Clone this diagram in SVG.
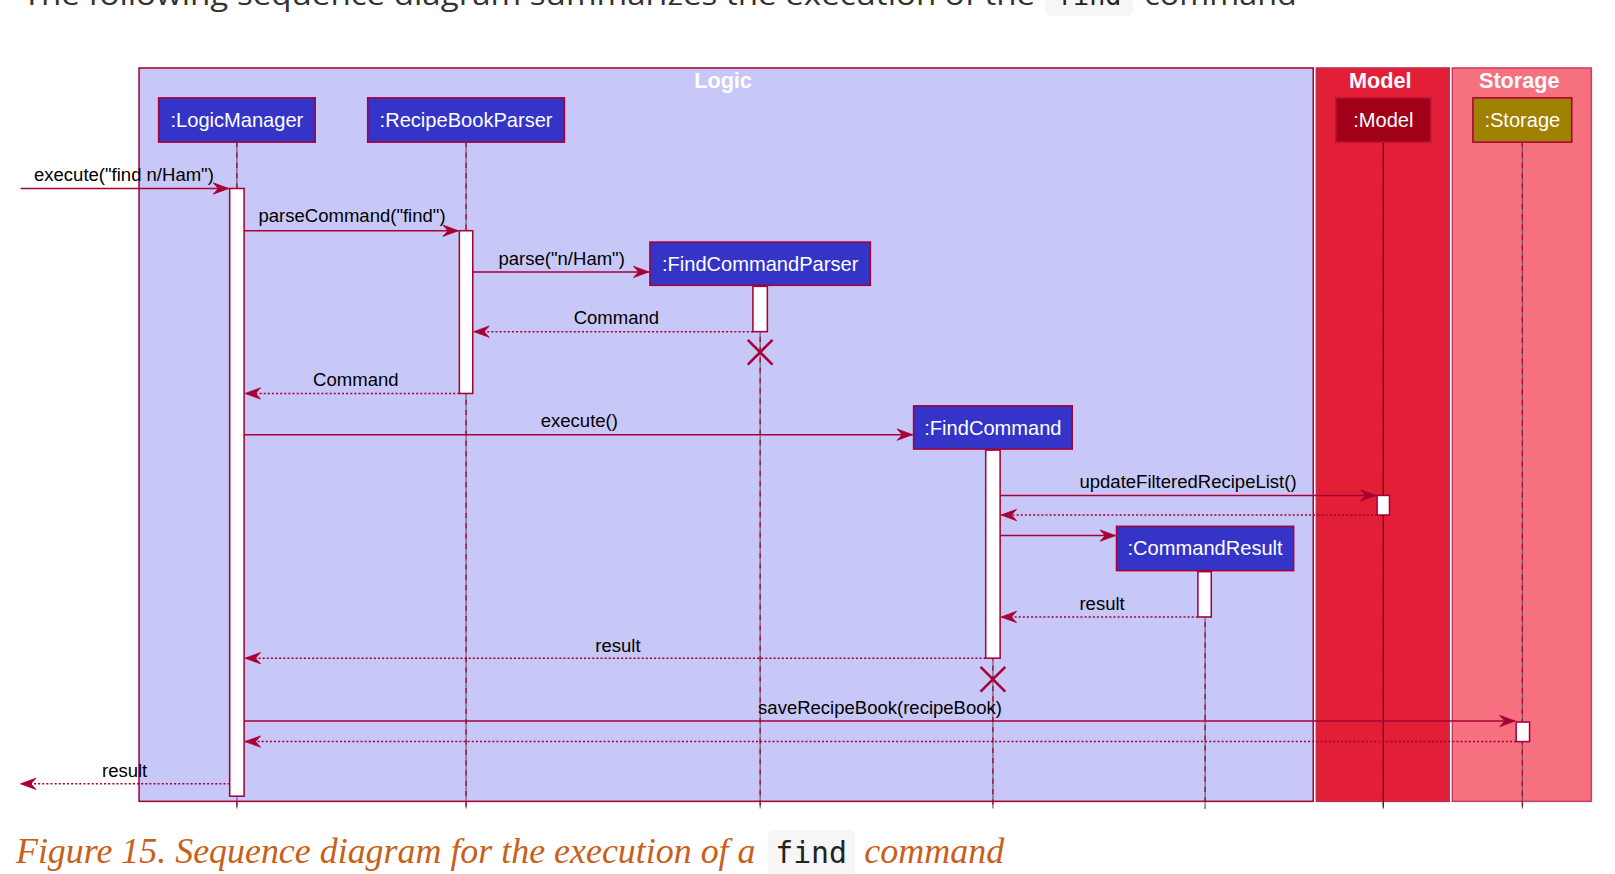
<svg xmlns="http://www.w3.org/2000/svg" width="1615" height="874" viewBox="0 0 1615 874">
<defs>
<marker id="ah" markerUnits="userSpaceOnUse" markerWidth="18" markerHeight="14" viewBox="-16 -7 18 14" refX="0" refY="0" orient="auto">
<path d="M0,0 L-15,-5.5 L-10,0 L-15,5.5 Z" fill="#A80036" stroke="#A80036" stroke-width="0.8" stroke-linejoin="miter"/>
</marker>
<style>
.frame{stroke:#A80036;stroke-width:1.5}
.ftitle{font-family:"Liberation Sans",Arial,sans-serif;font-weight:bold;font-size:21px;fill:#fff;text-anchor:middle}
.pbox{stroke:#A80036;stroke-width:1.5;fill:#3434C8}
.ptext{font-family:"Liberation Sans",Arial,sans-serif;font-size:19.5px;fill:#fff;text-anchor:middle}
.life{stroke:#555;stroke-width:1}
.lifed{stroke:#A80036;stroke-width:1.2;stroke-dasharray:5 5}
.act{fill:#fff;stroke:#A80036;stroke-width:1.5}
.msg{stroke:#A80036;stroke-width:1.5;fill:none;marker-end:url(#ah)}
.ret{stroke:#A80036;stroke-width:1.5;fill:none;stroke-dasharray:2 2;marker-end:url(#ah)}
.lbl{font-family:"Liberation Sans",Arial,sans-serif;font-size:18px;fill:#000}
.x{stroke:#A80036;stroke-width:2.5}
</style>
</defs>
<rect width="1615" height="874" fill="#fff"/>
<g transform="scale(1.03)">
<g id="intro">
<text x="22" y="4.4" font-family="'Open Sans','Noto Sans',sans-serif" font-size="28" fill="#333" textLength="983" lengthAdjust="spacingAndGlyphs">The following sequence diagram summarizes the execution of the</text>
<rect x="1015" y="-20" width="85" height="35.5" rx="5" fill="#f6f6f6"/>
<text x="1057.5" y="4.4" font-family="'DejaVu Sans Mono','Liberation Mono',monospace" font-size="26" fill="#222" text-anchor="middle">find</text>
<text x="1111" y="4.4" font-family="'Open Sans','Noto Sans',sans-serif" font-size="28" fill="#333" textLength="148" lengthAdjust="spacingAndGlyphs">command</text>
</g>
<g id="frame-logic">
<rect class="frame" x="135" y="66" width="1140" height="712" fill="#C8C8F8"/>
<text class="ftitle" x="702" y="85">Logic</text>
</g>
<g id="frame-model">
<rect class="frame" x="1278" y="66" width="129" height="712" fill="#E31F38" style="stroke:#C0304E"/>
<text class="ftitle" x="1340" y="85">Model</text>
</g>
<g id="frame-storage">
<rect class="frame" x="1410" y="66" width="135" height="712" fill="#F7707F" style="stroke:#C84060"/>
<text class="ftitle" x="1475" y="85">Storage</text>
</g>
<g id="lifelines">
<line class="life" x1="230" y1="138" x2="230" y2="785"/><line class="lifed" x1="230" y1="138" x2="230" y2="785"/>
<line class="life" x1="452.5" y1="138" x2="452.5" y2="785"/><line class="lifed" x1="452.5" y1="138" x2="452.5" y2="785"/>
<line class="life" x1="738" y1="277" x2="738" y2="785"/><line class="lifed" x1="738" y1="277" x2="738" y2="785"/>
<line class="life" x1="964" y1="436" x2="964" y2="785"/><line class="lifed" x1="964" y1="436" x2="964" y2="785"/>
<line class="life" x1="1170" y1="554" x2="1170" y2="785"/><line class="lifed" x1="1170" y1="554" x2="1170" y2="785"/>
<line class="life" x1="1343" y1="138" x2="1343" y2="785" style="stroke:#5a0010"/><line class="lifed" x1="1343" y1="138" x2="1343" y2="785" style="stroke:#8a0020"/>
<line class="life" x1="1478" y1="138" x2="1478" y2="785"/><line class="lifed" x1="1478" y1="138" x2="1478" y2="785"/>
</g>
<g id="LogicManager">
<rect class="pbox" x="154" y="95" width="152" height="43"/>
<text class="ptext" x="230" y="123">:LogicManager</text>
<rect class="act" x="223" y="183" width="14" height="590"/>
</g>
<g id="RecipeBookParser">
<rect class="pbox" x="357" y="95" width="191" height="43"/>
<text class="ptext" x="452.5" y="123">:RecipeBookParser</text>
<rect class="act" x="446" y="224" width="13" height="158"/>
</g>
<g id="FindCommandParser">
<rect class="pbox" x="631" y="235" width="214" height="42"/>
<text class="ptext" x="738" y="263">:FindCommandParser</text>
<rect class="act" x="731" y="278" width="14" height="44"/>
<line class="x" x1="726" y1="330" x2="750" y2="354"/><line class="x" x1="750" y1="330" x2="726" y2="354"/>
</g>
<g id="FindCommand">
<rect class="pbox" x="887" y="394" width="154" height="42"/>
<text class="ptext" x="964" y="422">:FindCommand</text>
<rect class="act" x="957" y="437" width="14" height="202"/>
<line class="x" x1="952" y1="647.5" x2="976" y2="671.5"/><line class="x" x1="976" y1="647.5" x2="952" y2="671.5"/>
</g>
<g id="CommandResult">
<rect class="pbox" x="1084" y="511" width="172" height="43"/>
<text class="ptext" x="1170" y="539">:CommandResult</text>
<rect class="act" x="1163" y="555" width="13" height="44"/>
</g>
<g id="Model">
<rect class="pbox" x="1297" y="95" width="92" height="43" style="fill:#A00018;stroke:#C01040"/>
<text class="ptext" x="1343" y="123">:Model</text>
<rect class="act" x="1337" y="481" width="12" height="19"/>
</g>
<g id="Storage">
<rect class="pbox" x="1430" y="95" width="96" height="43" style="fill:#A08000"/>
<text class="ptext" x="1478" y="123">:Storage</text>
<rect class="act" x="1472" y="701" width="13" height="19"/>
</g>
<g id="connectors">
<line class="msg" x1="20" y1="183" x2="222" y2="183"/>
<text class="lbl" x="33" y="176">execute("find n/Ham")</text>
<line class="msg" x1="237" y1="224" x2="445" y2="224"/>
<text class="lbl" x="251" y="216">parseCommand("find")</text>
<line class="msg" x1="459" y1="264" x2="630" y2="264"/>
<text class="lbl" x="484" y="257">parse("n/Ham")</text>
<line class="ret" x1="731" y1="322" x2="460" y2="322"/>
<text class="lbl" x="557" y="315">Command</text>
<line class="ret" x1="446" y1="382" x2="238" y2="382"/>
<text class="lbl" x="304" y="375">Command</text>
<line class="msg" x1="237" y1="422" x2="886" y2="422"/>
<text class="lbl" x="525" y="415">execute()</text>
<line class="msg" x1="971" y1="481" x2="1336" y2="481"/>
<text class="lbl" x="1048" y="474">updateFilteredRecipeList()</text>
<line class="ret" x1="1337" y1="500" x2="972" y2="500"/>
<line class="msg" x1="971" y1="520" x2="1083" y2="520"/>
<line class="ret" x1="1163" y1="599" x2="972" y2="599"/>
<text class="lbl" x="1048" y="592">result</text>
<line class="ret" x1="957" y1="639" x2="238" y2="639"/>
<text class="lbl" x="578" y="633">result</text>
<line class="msg" x1="237" y1="700" x2="1471" y2="700"/>
<text class="lbl" x="736" y="693">saveRecipeBook(recipeBook)</text>
<line class="ret" x1="1472" y1="720" x2="238" y2="720"/>
<line class="ret" x1="223" y1="761" x2="20" y2="761"/>
<text class="lbl" x="99" y="754">result</text>
</g>
<g id="caption">
<text x="15.5" y="838" font-family="'Liberation Serif','Times New Roman',serif" font-style="italic" font-size="35" fill="#C8601A" textLength="718" lengthAdjust="spacingAndGlyphs">Figure 15. Sequence diagram for the execution of a</text>
<rect x="745.5" y="806" width="84.5" height="50" rx="5" fill="#f6f6f6"/>
<text x="787.5" y="838" font-family="'DejaVu Sans Mono','Liberation Mono',monospace" font-size="29" fill="#222" text-anchor="middle">find</text>
<text x="839" y="838" font-family="'Liberation Serif','Times New Roman',serif" font-style="italic" font-size="35" fill="#C8601A" textLength="136" lengthAdjust="spacingAndGlyphs">command</text>
</g>
</g>
</svg>
